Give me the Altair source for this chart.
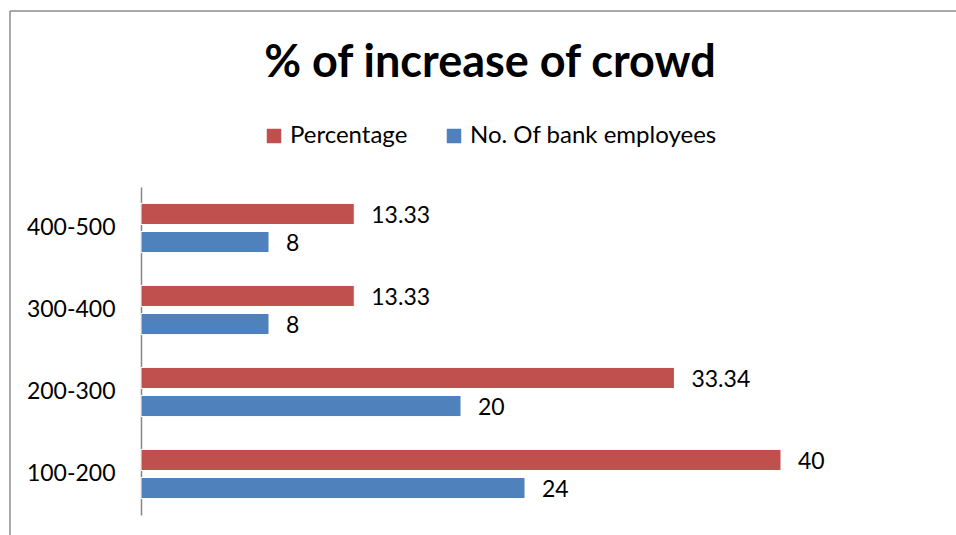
import altair as alt
import pandas as pd

categories = ["400-500", "300-400", "200-300", "100-200"]
series = ["Percentage", "No. Of bank employees"]
percentage = [13.33, 13.33, 33.34, 40]
employees = [8, 8, 20, 24]
pct_labels = ["13.33", "13.33", "33.34", "40"]
emp_labels = ["8", "8", "20", "24"]
colors = ["#C0504D", "#4F81BD"]

rows = []
for c, p, pl, e, el in zip(categories, percentage, pct_labels, employees, emp_labels):
    rows.append({"range": c, "series": series[0], "value": p, "label": pl})
    rows.append({"range": c, "series": series[1], "value": e, "label": el})
df = pd.DataFrame(rows)

FONT = "Lato"

y_enc = alt.Y("range:N", sort=categories,
              scale=alt.Scale(paddingInner=0.4, paddingOuter=0.2),
              axis=alt.Axis(title=None, ticks=False, labelFontSize=23, labelColor="#000000",
                            labelFont=FONT, labelPadding=26, domainColor="#868686",
                            domainWidth=1.5, grid=False))
yoff = alt.YOffset("series:N", sort=series, scale=alt.Scale(paddingInner=0.25, paddingOuter=0))
x_enc = alt.X("value:Q", scale=alt.Scale(domain=[0, 50]), axis=None)

base = alt.Chart(df)
bars = base.mark_bar(stroke="white", strokeWidth=1).encode(
    y=y_enc, yOffset=yoff, x=x_enc,
    color=alt.Color("series:N", sort=series,
                    scale=alt.Scale(domain=series, range=colors),
                    legend=alt.Legend(title=None, orient="none", legendX=121, legendY=-63,
                                      direction="horizontal", symbolType="square",
                                      symbolSize=210, symbolStrokeWidth=0,
                                      labelFontSize=24, labelFont=FONT, labelColor="#000000",
                                      labelOffset=4, columnPadding=34, labelLimit=400)),
)
labels = base.mark_text(align="left", baseline="middle", dx=17, dy=2, fontSize=23,
                        font=FONT, color="#000000").encode(
    y=y_enc, yOffset=yoff, x=x_enc, text="label:N"
)

frame = pd.DataFrame({"a": [0]})
top_line = alt.Chart(frame).mark_rule(color="#8c8c8c", strokeWidth=1.5).encode(
    x=alt.value(-131), x2=alt.value(830), y=alt.value(-176))
left_line = alt.Chart(frame).mark_rule(color="#8c8c8c", strokeWidth=1.5).encode(
    x=alt.value(-131), y=alt.value(-176), y2=alt.value(360))

chart = alt.layer(top_line, left_line, bars, labels).properties(
    width=800, height=328,
    background="white",
    title=alt.TitleParams("% of increase of crowd", fontSize=45, fontWeight="bold",
                          font=FONT, color="#000000", anchor="middle", dx=-51,
                          offset=0, baseline="alphabetic", dy=112),
    padding={"left": 141, "top": 187, "right": 15, "bottom": 20},
    autosize=alt.AutoSizeParams(type="none"),
).configure_view(strokeWidth=0, stroke=None)

chart.save("out.html", embed_options={"renderer": "svg", "actions": False})
